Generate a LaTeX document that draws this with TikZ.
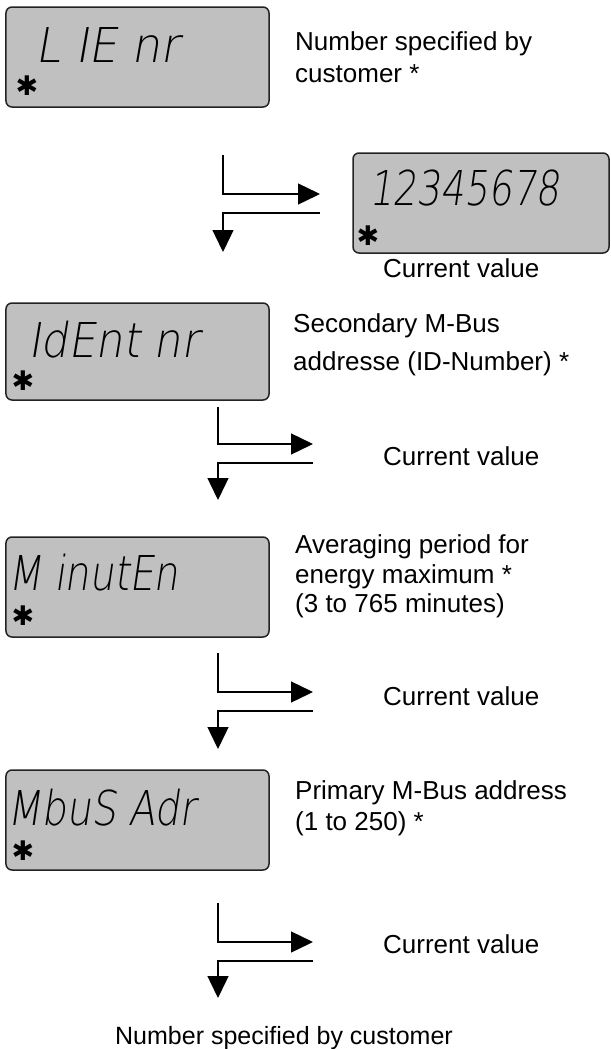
\documentclass[tikz,border=0pt]{standalone}
\usepackage{fontspec}
\setmainfont{Liberation Sans}
\newfontfamily\lcdfont{DejaVu Sans ExtraLight}[FakeSlant=0.18]
\newfontfamily\symfont{DejaVu Sans}
\usetikzlibrary{arrows.meta}
\definecolor{lcdgray}{RGB}{192,192,192}
\definecolor{lcdedge}{RGB}{35,35,35}
\tikzset{
  lcdbox/.style={draw=lcdedge, fill=lcdgray, line width=1.5bp, rounded corners=6bp,
    minimum width=263bp, minimum height=100bp, inner sep=0pt},
  lcdtext/.style={anchor=base west, inner sep=0pt, font=\lcdfont\fontsize{48bp}{48bp}\selectfont},
  star/.style={inner sep=0pt, font=\symfont\fontsize{27bp}{27bp}\selectfont},
  lbl/.style={anchor=base west, inner sep=0pt, font=\fontsize{26bp}{30bp}\selectfont},
  flow/.style={line width=1.4bp, -{Triangle[length=22bp,width=21bp]}}
}
\begin{document}
\begin{tikzpicture}[x=1bp,y=-1bp]
\useasboundingbox (0,0) rectangle (611,1049);
% boxes
\node[lcdbox] (b1) at (137.5,57) {};
\node[lcdbox, minimum width=256bp] (b2) at (481,203) {};
\node[lcdbox, minimum height=97bp] (b3) at (137.5,351.5) {};
\node[lcdbox] (b4) at (137.5,587) {};
\node[lcdbox] (b5) at (137.5,820) {};
% lcd texts
\node[lcdtext, xscale=0.95] (d1) at (35,62) {L IE nr};
\node[lcdtext, xscale=0.78] (d2) at (369,205) {12345678};
\node[lcdtext, xscale=0.9] (d3) at (28,357) {IdEnt nr};
\node[lcdtext, xscale=0.81] (d4) at (8,590) {M inutEn};
\node[lcdtext, xscale=0.82] (d5) at (7,825) {MbuS Adr};
% asterisks
\node[star] (s1) at (27,86) {✱};
\node[star] (s2) at (368,236) {✱};
\node[star] (s3) at (23,381) {✱};
\node[star] (s4) at (23,616) {✱};
\node[star] (s5) at (23,851) {✱};
% descriptions
\node[lbl] (t1a) at (295,50) {Number specified by};
\node[lbl] (t1b) at (295,82) {customer *};
\node[lbl] (t2a) at (293,332) {Secondary M-Bus};
\node[lbl] (t2b) at (293,370) {addresse (ID-Number) *};
\node[lbl] (t3a) at (295,553) {Averaging period for};
\node[lbl] (t3b) at (295,583) {energy maximum *};
\node[lbl] (t3c) at (295,612) {(3 to 765 minutes)};
\node[lbl] (t4a) at (295,799) {Primary M-Bus address};
\node[lbl] (t4b) at (295,830) {(1 to 250) *};
\node[lbl] (c1) at (383,277) {Current value};
\node[lbl] (c2) at (383,465) {Current value};
\node[lbl] (c3) at (383,705) {Current value};
\node[lbl] (c4) at (383,953) {Current value};
\node[lbl, anchor=base, font=\fontsize{25bp}{29bp}\selectfont] (fin) at (284,1044) {Number specified by customer};
% arrow coordinates
\coordinate (g1s) at (223,155); \coordinate (g1c) at (223,194); \coordinate (g1t) at (320,194);
\coordinate (g1r) at (320,213); \coordinate (g1k) at (223,213); \coordinate (g1d) at (223,252);
\coordinate (g2s) at (218,407); \coordinate (g2c) at (218,444); \coordinate (g2t) at (313,444);
\coordinate (g2r) at (313,463); \coordinate (g2k) at (218,463); \coordinate (g2d) at (218,500);
\coordinate (g3s) at (218,653); \coordinate (g3c) at (218,692); \coordinate (g3t) at (313,692);
\coordinate (g3r) at (313,711); \coordinate (g3k) at (218,711); \coordinate (g3d) at (218,749);
\coordinate (g4s) at (218,903); \coordinate (g4c) at (218,942); \coordinate (g4t) at (313,942);
\coordinate (g4r) at (313,961); \coordinate (g4k) at (218,961); \coordinate (g4d) at (218,998);
\foreach \g in {g1,g2,g3,g4}{
  \draw[flow] (\g s) -- (\g c) -- (\g t);
  \draw[flow] (\g r) -- (\g k) -- (\g d);
}
\end{tikzpicture}
\end{document}
